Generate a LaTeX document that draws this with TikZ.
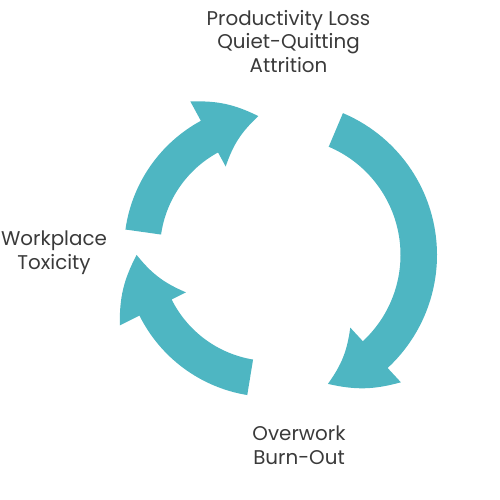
\documentclass[tikz,border=0pt]{standalone}
\usepackage{fontspec}
\setmainfont{Poppins}
\usepackage{tikz}

\definecolor{cycleteal}{HTML}{4EB6C2}
\definecolor{labelgray}{HTML}{3A3A3A}

\begin{document}
\begin{tikzpicture}[
  arrowfill/.style={fill=cycleteal, draw=none},
  label/.style={align=center, text=labelgray, font=\fontsize{11.3}{13.4}\selectfont}
]
\useasboundingbox (0,0) rectangle (10,10);

\coordinate (cl) at (5.42,5.00);
\coordinate (cr) at (5.66,4.90);

% left arrow, up to the top
\fill[arrowfill] ([shift={(172:2.94)}]cl) arc[start angle=172, end angle=118.5, radius=2.94]
  -- ([shift={(118.5:3.38)}]cl) to[bend left=14] ([shift={(95.4:2.69)}]cl)
  to[bend right=14] ([shift={(118.5:1.90)}]cl)
  -- ([shift={(118.5:2.22)}]cl) arc[start angle=118.5, end angle=172, radius=2.22] -- cycle;

% right arrow, down to the bottom
\fill[arrowfill] ([shift={(67.1:3.08)}]cr) arc[start angle=67.1, end angle=-47.2, radius=3.08]
  -- ([shift={(-47.2:3.47)}]cr) to[bend left=14] ([shift={(-70.8:2.73)}]cr)
  to[bend right=14] ([shift={(-47.2:1.98)}]cr)
  -- ([shift={(-47.2:2.35)}]cr) arc[start angle=-47.2, end angle=67.1, radius=2.35] -- cycle;

% bottom arrow, up to the left
\fill[arrowfill] ([shift={(260.7:2.94)}]cl) arc[start angle=260.7, end angle=206.5, radius=2.94]
  -- ([shift={(206.5:3.38)}]cl) to[bend left=14] ([shift={(182.1:2.69)}]cl)
  to[bend right=14] ([shift={(206.5:1.90)}]cl)
  -- ([shift={(206.5:2.22)}]cl) arc[start angle=206.5, end angle=260.7, radius=2.22] -- cycle;

\node[label] (loss) at (5.77,9.17) {Productivity Loss\\Quiet-Quitting\\Attrition};
\node[label] (toxic) at (1.08,4.95) {Workplace\\Toxicity};
\node[label] (overwork) at (5.98,1.10) {Overwork\\Burn-Out};
\end{tikzpicture}
\end{document}
